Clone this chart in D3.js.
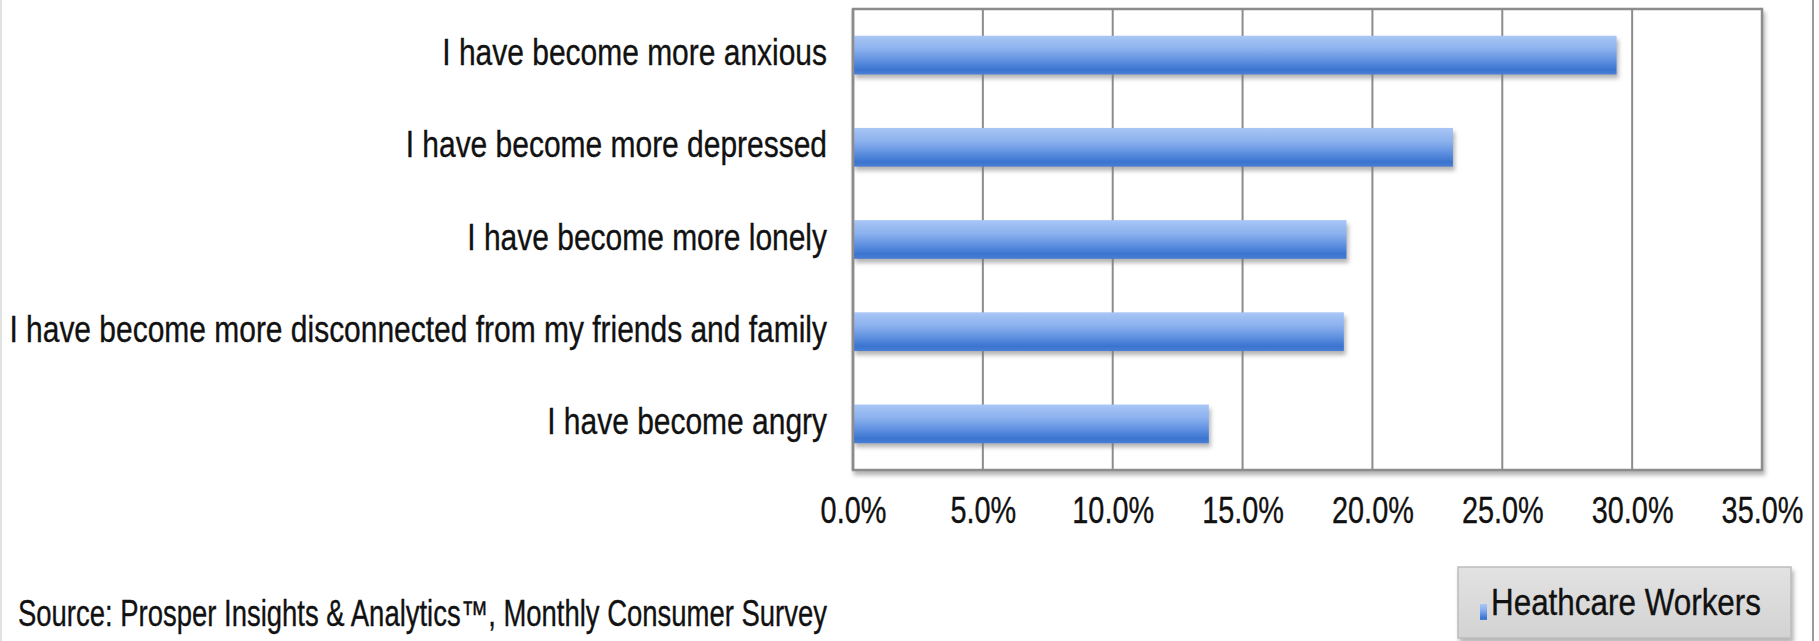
<!DOCTYPE html>
<html>
<head>
<meta charset="utf-8">
<script src="https://cdn.jsdelivr.net/npm/d3@7/dist/d3.min.js"></script>
<style>
  html, body { margin: 0; padding: 0; background: #fff; }
  svg { display: block; }
  text { font-family: "Liberation Sans", Arial, sans-serif; fill: #111; stroke: #111; stroke-width: 0.35px; }
</style>
</head>
<body>
<svg id="chart" width="1819" height="641"></svg>
<script>
const categories = [
  "I have become more anxious",
  "I have become more depressed",
  "I have become more lonely",
  "I have become more disconnected from my friends and family",
  "I have become angry"
];
const values = [29.4, 23.1, 19.0, 18.9, 13.7];
const tickValues = [0, 5, 10, 15, 20, 25, 30, 35];
const seriesName = "Heathcare Workers";
const sourceText = "Source: Prosper Insights & Analytics\u2122, Monthly Consumer Survey";

const W = 1819, H = 641;
const plot = { left: 853, right: 1762, top: 9, bottom: 470 };

const svg = d3.select("#chart");
const defs = svg.append("defs");

const grad = defs.append("linearGradient")
  .attr("id", "barGrad").attr("x1", 0).attr("y1", 0).attr("x2", 0).attr("y2", 1);
[["0%", "#a9c6f5"], ["35%", "#8bb1ee"], ["65%", "#5e8fe0"], ["88%", "#3a74cf"], ["100%", "#4a7fd3"]]
  .forEach(([o, c]) => grad.append("stop").attr("offset", o).attr("stop-color", c));

const shadow = defs.append("filter").attr("id", "shadow")
  .attr("x", "-5%").attr("y", "-20%").attr("width", "110%").attr("height", "160%");
shadow.append("feDropShadow").attr("dx", 2).attr("dy", 4).attr("stdDeviation", 2)
  .attr("flood-color", "#777").attr("flood-opacity", 0.55);

const legGrad = defs.append("linearGradient")
  .attr("id", "legGrad").attr("x1", 0).attr("y1", 0).attr("x2", 0).attr("y2", 1);
[["0%", "#e2e2e2"], ["100%", "#d3d3d3"]]
  .forEach(([o, c]) => legGrad.append("stop").attr("offset", o).attr("stop-color", c));

const x = d3.scaleLinear().domain([0, 35]).range([plot.left, plot.right]);
const y = d3.scaleBand().domain(categories).range([plot.top, plot.bottom]).paddingInner(0.58).paddingOuter(0.29);

// page border lines
svg.append("line").attr("x1", 1813).attr("x2", 1813).attr("y1", 0).attr("y2", H)
  .attr("stroke", "#9a9a9a").attr("stroke-width", 2);
svg.append("line").attr("x1", 1).attr("x2", 1).attr("y1", 0).attr("y2", H)
  .attr("stroke", "#e2e2e2").attr("stroke-width", 2);

// plot frame with shadow
svg.append("rect")
  .attr("x", plot.left).attr("y", plot.top)
  .attr("width", plot.right - plot.left).attr("height", plot.bottom - plot.top)
  .attr("fill", "#fff").attr("stroke", "#8c8c8c").attr("stroke-width", 2.5)
  .attr("filter", "url(#shadow)");

// gridlines
svg.append("g")
  .selectAll("line").data(tickValues.slice(1, -1)).join("line")
  .attr("x1", d => x(d)).attr("x2", d => x(d))
  .attr("y1", plot.top).attr("y2", plot.bottom)
  .attr("stroke", "#8c8c8c").attr("stroke-width", 2);

// bars
svg.append("g")
  .selectAll("rect").data(categories).join("rect")
  .attr("x", x(0))
  .attr("y", d => y(d))
  .attr("width", (d, i) => x(values[i]) - x(0))
  .attr("height", y.bandwidth())
  .attr("fill", "url(#barGrad)")
  .attr("filter", "url(#shadow)");

// left axis line on top
svg.append("line").attr("x1", plot.left).attr("x2", plot.left)
  .attr("y1", plot.top).attr("y2", plot.bottom)
  .attr("stroke", "#8c8c8c").attr("stroke-width", 2.5);

// category labels
svg.append("g")
  .selectAll("text").data(categories).join("text")
  .attr("transform", d => `translate(827,${y(d) + y.bandwidth() / 2 + 10}) scale(0.81,1)`)
  .attr("text-anchor", "end")
  .attr("font-size", 37)
  .text(d => d);

// x tick labels via axis
const xAxis = d3.axisBottom(x).tickValues(tickValues).tickSize(0).tickPadding(0)
  .tickFormat(d => d3.format(".1f")(d) + "%");
const axG = svg.append("g").attr("transform", `translate(0,${plot.bottom})`).call(xAxis);
axG.select(".domain").remove();
axG.selectAll(".tick text")
  .attr("y", 0).attr("dy", 0)
  .attr("transform", "translate(0,53) scale(0.78,1)")
  .attr("font-size", 37)
  .attr("font-family", "Liberation Sans, Arial, sans-serif")
  .attr("fill", "#111")
  .attr("text-anchor", "middle");

// source
svg.append("text")
  .attr("x", 18).attr("y", 626)
  .attr("font-size", 36)
  .attr("textLength", 809).attr("lengthAdjust", "spacingAndGlyphs")
  .text(sourceText);

// legend
const leg = svg.append("g");
leg.append("rect").attr("x", 1458).attr("y", 567).attr("width", 333).attr("height", 71)
  .attr("fill", "url(#legGrad)").attr("stroke", "#bdbdbd").attr("stroke-width", 1.5)
  .attr("filter", "url(#shadow)");
leg.append("rect").attr("x", 1480).attr("y", 604).attr("width", 7).attr("height", 16)
  .attr("fill", "url(#barGrad)");
leg.append("text").attr("x", 1491).attr("y", 615)
  .attr("font-size", 36)
  .attr("textLength", 270).attr("lengthAdjust", "spacingAndGlyphs")
  .text(seriesName);
</script>
</body>
</html>
